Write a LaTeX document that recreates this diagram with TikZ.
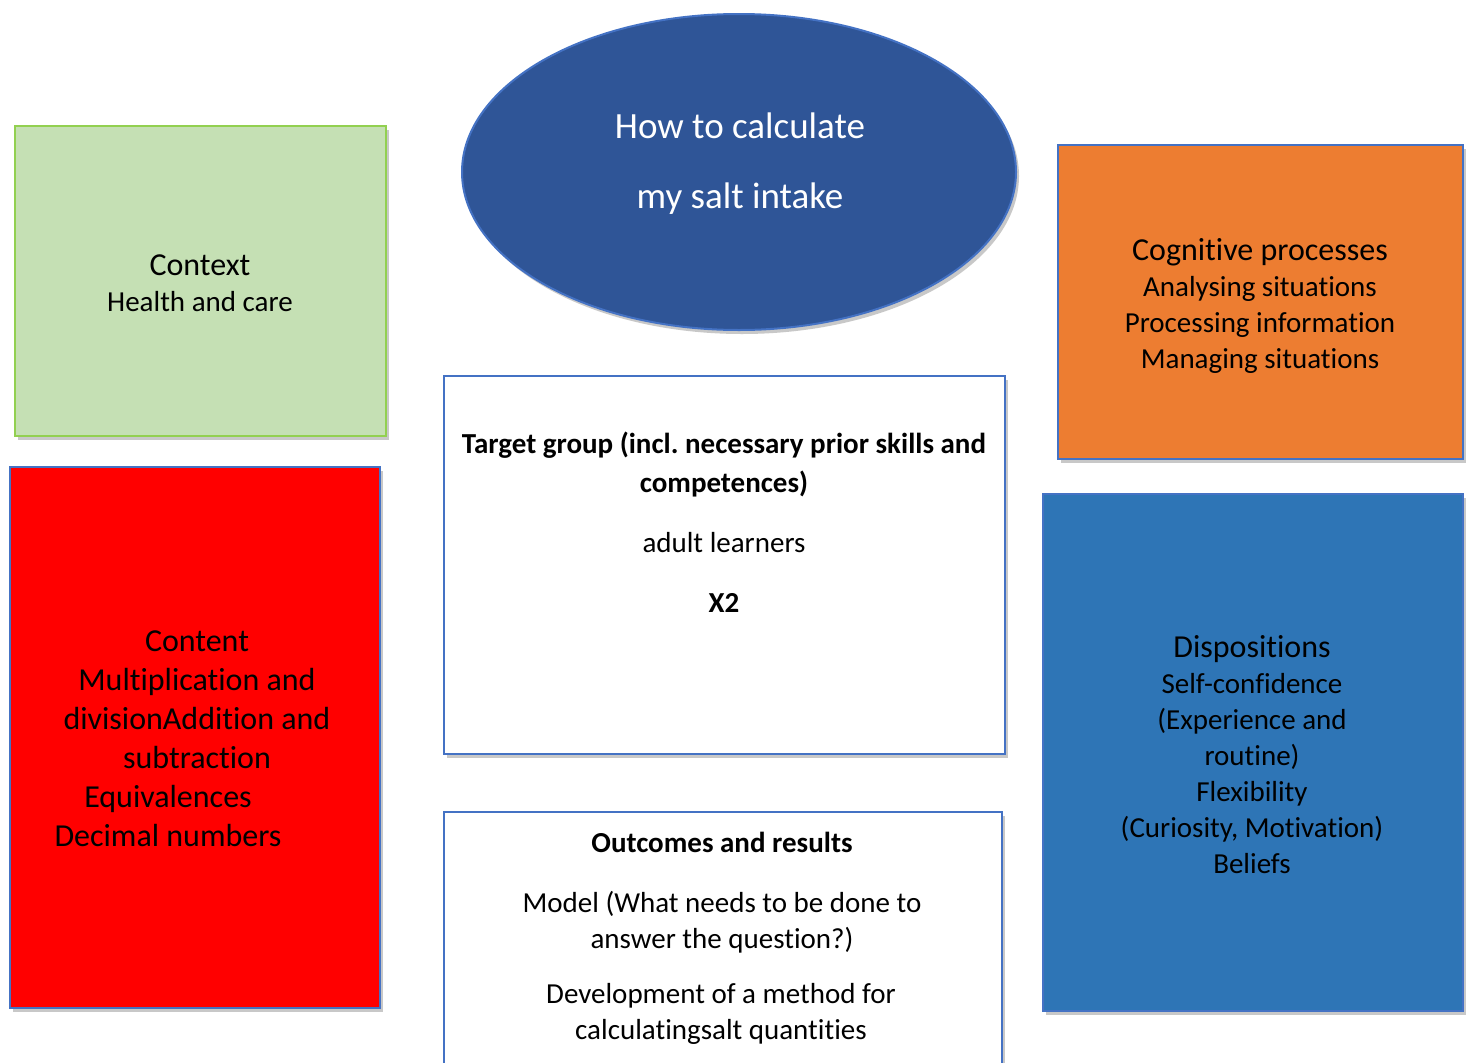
\documentclass[tikz,border=0pt]{standalone}
\usepackage{fontspec}
\setmainfont[Ligatures=NoCommon]{Carlito}
\usetikzlibrary{shapes.geometric,shadows}
\definecolor{bordblue}{HTML}{4472C4}
\definecolor{greenfill}{HTML}{C5E0B4}
\definecolor{greenbord}{HTML}{92D050}
\definecolor{orangefill}{HTML}{ED7D31}
\definecolor{dispblue}{HTML}{2E75B6}
\definecolor{ovalblue}{HTML}{2F5597}
\frenchspacing
\begin{document}
\begin{tikzpicture}[x=1pt,y=-1pt,
  shadowed/.style={drop shadow={shadow xshift=3pt,shadow yshift=-4pt,opacity=0.3,fill=black!70}},
  card/.style={rectangle,draw=bordblue,line width=2pt,inner sep=0pt,shadowed},
  headtxt/.style={font=\fontsize{32}{39}\selectfont,align=center,inner sep=0pt},
  bodytxt/.style={font=\fontsize{29}{36}\selectfont,align=center,inner sep=0pt},
  boldtxt/.style={font=\fontsize{29}{39}\selectfont\bfseries,align=center,inner sep=0pt}]
\useasboundingbox (0,0) rectangle (1470,1063);
\clip (0,0) rectangle (1470,1063);
\fill[white] (0,0) rectangle (1470,1063);

% boxes
\node[card,draw=greenbord,fill=greenfill,minimum width=371pt,minimum height=310pt] (context) at (200.5,281) {};
\node[card,fill=red,minimum width=370pt,minimum height=541pt] (content) at (195,737.5) {};
\node[ellipse,draw=bordblue,line width=2pt,fill=ovalblue,inner sep=0pt,shadowed,minimum width=554pt,minimum height=316pt] (title) at (739,172) {};
\node[card,fill=white,minimum width=561pt,minimum height=378pt] (target) at (724.5,565) {};
\node[card,fill=white,minimum width=558pt,minimum height=288pt] (outcomes) at (723,956) {};
\node[card,fill=orangefill,minimum width=405pt,minimum height=314pt] (cognitive) at (1260.5,302) {};
\node[card,fill=dispblue,minimum width=420pt,minimum height=517pt] (disp) at (1253,752.5) {};

% texts
\node[bodytxt] (contexttxt) at (200,283) {{\fontsize{32}{36}\selectfont Context}\\Health and care};
\node[headtxt] (contenttxt) at (197,738.5) {Content\\Multiplication and\\divisionAddition and\\subtraction\\Equivalences\hspace*{58pt}\null\\Decimal numbers\hspace*{58pt}\null};
\node[font=\fontsize{37}{70}\selectfont,align=center,inner sep=0pt,text=white] (titletxt) at (740,164) {How to calculate\\my salt intake};
\node[bodytxt] (cogtxt) at (1260,305.5) {{\fontsize{32}{36}\selectfont Cognitive processes}\\Analysing situations\\Processing information\\Managing situations};
\node[bodytxt] (disptxt) at (1252,755) {{\fontsize{32}{36}\selectfont Dispositions}\\Self-confidence\\(Experience and\\routine)\\Flexibility\\(Curiosity, Motivation)\\Beliefs};
\node[boldtxt] (tghead) at (724,464.5) {Target group (incl. necessary prior skills and\\competences)};
\node[bodytxt] (tgbody) at (724,543) {adult learners};
\node[boldtxt] (tgx) at (724,603) {X2};
\node[boldtxt] (outhead) at (722,842) {Outcomes and results};
\node[bodytxt] (outmodel) at (722,922.5) {Model (What needs to be done to\\answer the question?)};
\node[bodytxt] (outdev) at (721,1014) {Development of a method for\\calculatingsalt quantities};
\end{tikzpicture}
\end{document}
